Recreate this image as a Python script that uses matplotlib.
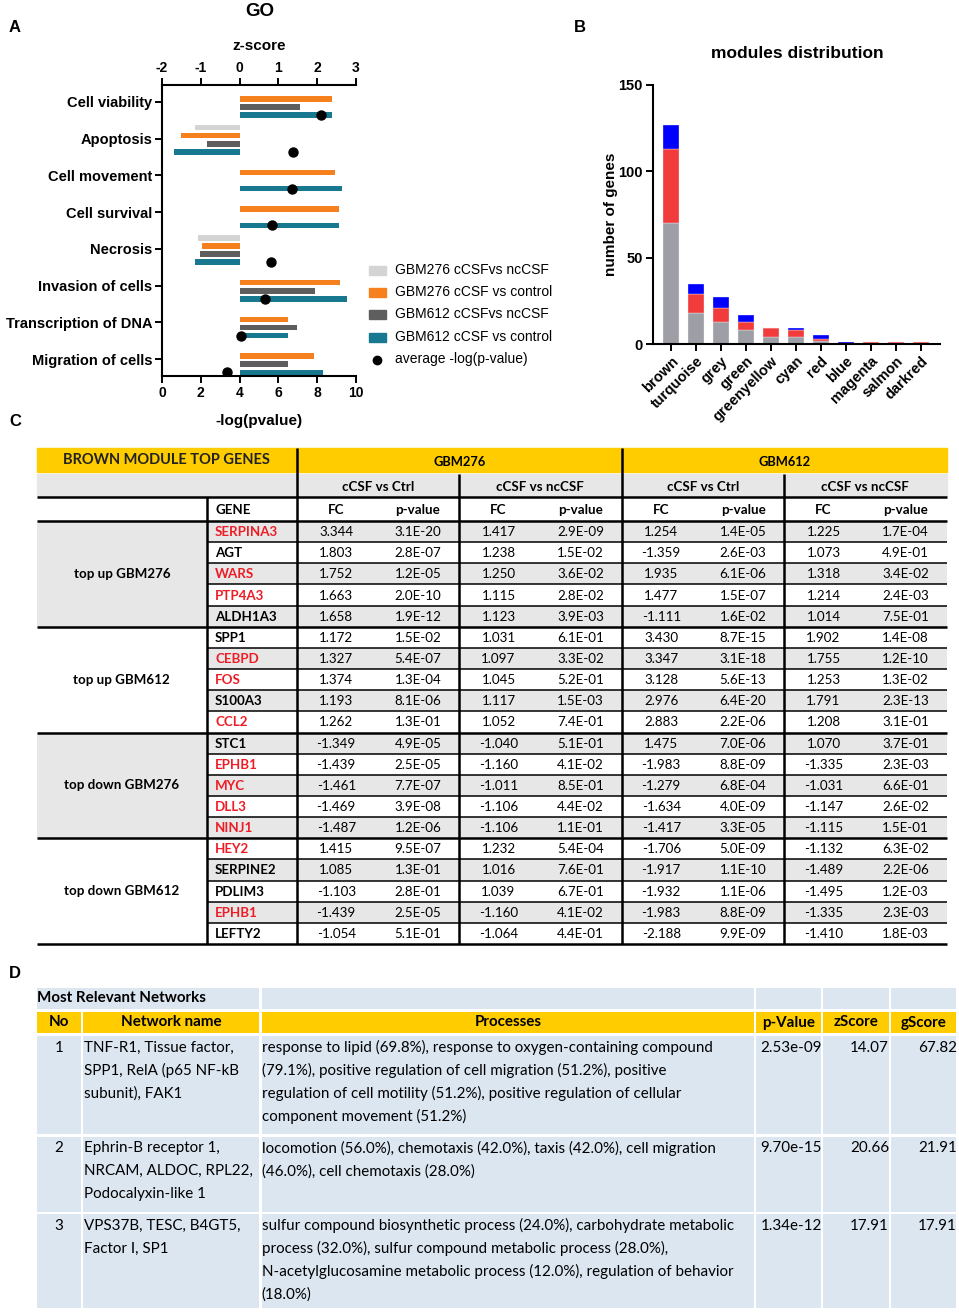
import numpy as np
import matplotlib
matplotlib.use("Agg")
import matplotlib.pyplot as plt
from matplotlib.patches import Rectangle

plt.rcParams["axes.unicode_minus"] = False

W, H = 959, 1312
SANS = "Liberation Sans"
TAB = "Lato"

# ---------------- panel A: GO terms ----------------
go_terms = ["Cell viability", "Apoptosis", "Cell movement", "Cell survival",
            "Necrosis", "Invasion of cells", "Transcription of DNA", "Migration of cells"]
z_276_nc = [np.nan, -1.14, np.nan, np.nan, -1.07, np.nan, np.nan, np.nan]
z_276_ctrl = [2.38, -1.50, 2.46, 2.56, -0.97, 2.58, 1.25, 1.92]
z_612_nc = [1.55, -0.85, np.nan, np.nan, -1.02, 1.95, 1.47, 1.25]
z_612_ctrl = [2.38, -1.69, 2.65, 2.56, -1.16, 2.77, 1.25, 2.15]
avg_logp = [8.18, 6.73, 6.69, 5.68, 5.64, 5.32, 4.06, 3.35]
go_series = ["GBM276 cCSFvs ncCSF", "GBM276 cCSF vs control",
             "GBM612 cCSFvs ncCSF", "GBM612 cCSF vs control"]
go_colors = ["#d4d4d4", "#f7801e", "#5e5e5e", "#18788f"]

# ---------------- panel B: modules ----------------
modules = ["brown", "turquoise", "grey", "green", "greenyellow", "cyan",
           "red", "blue", "magenta", "salmon", "darkred"]
n_neutral = [70, 18, 13, 8, 4, 4, 2, 0, 0, 0, 0]
n_up = [43, 11, 8, 5, 5, 4, 1, 0, 1, 1, 1]
n_down = [14, 6, 6, 4, 0, 1, 2, 1, 0, 0, 0]

# ---------------- panel C: brown module top genes ----------------
groups = ["top up GBM276", "top up GBM612", "top down GBM276", "top down GBM612"]
genes = ["SERPINA3", "AGT", "WARS", "PTP4A3", "ALDH1A3", "SPP1", "CEBPD", "FOS", "S100A3", "CCL2",
         "STC1", "EPHB1", "MYC", "DLL3", "NINJ1", "HEY2", "SERPINE2", "PDLIM3", "EPHB1", "LEFTY2"]
gene_red = [1, 0, 1, 1, 0, 0, 1, 1, 0, 1, 0, 1, 1, 1, 1, 1, 0, 0, 1, 0]
fc_276_ctrl = ["3.344", "1.803", "1.752", "1.663", "1.658", "1.172", "1.327", "1.374", "1.193", "1.262",
               "-1.349", "-1.439", "-1.461", "-1.469", "-1.487", "1.415", "1.085", "-1.103", "-1.439", "-1.054"]
p_276_ctrl = ["3.1E-20", "2.8E-07", "1.2E-05", "2.0E-10", "1.9E-12", "1.5E-02", "5.4E-07", "1.3E-04", "8.1E-06", "1.3E-01",
              "4.9E-05", "2.5E-05", "7.7E-07", "3.9E-08", "1.2E-06", "9.5E-07", "1.3E-01", "2.8E-01", "2.5E-05", "5.1E-01"]
fc_276_nc = ["1.417", "1.238", "1.250", "1.115", "1.123", "1.031", "1.097", "1.045", "1.117", "1.052",
             "-1.040", "-1.160", "-1.011", "-1.106", "-1.106", "1.232", "1.016", "1.039", "-1.160", "-1.064"]
p_276_nc = ["2.9E-09", "1.5E-02", "3.6E-02", "2.8E-02", "3.9E-03", "6.1E-01", "3.3E-02", "5.2E-01", "1.5E-03", "7.4E-01",
            "5.1E-01", "4.1E-02", "8.5E-01", "4.4E-02", "1.1E-01", "5.4E-04", "7.6E-01", "6.7E-01", "4.1E-02", "4.4E-01"]
fc_612_ctrl = ["1.254", "-1.359", "1.935", "1.477", "-1.111", "3.430", "3.347", "3.128", "2.976", "2.883",
               "1.475", "-1.983", "-1.279", "-1.634", "-1.417", "-1.706", "-1.917", "-1.932", "-1.983", "-2.188"]
p_612_ctrl = ["1.4E-05", "2.6E-03", "6.1E-06", "1.5E-07", "1.6E-02", "8.7E-15", "3.1E-18", "5.6E-13", "6.4E-20", "2.2E-06",
              "7.0E-06", "8.8E-09", "6.8E-04", "4.0E-09", "3.3E-05", "5.0E-09", "1.1E-10", "1.1E-06", "8.8E-09", "9.9E-09"]
fc_612_nc = ["1.225", "1.073", "1.318", "1.214", "1.014", "1.902", "1.755", "1.253", "1.791", "1.208",
             "1.070", "-1.335", "-1.031", "-1.147", "-1.115", "-1.132", "-1.489", "-1.495", "-1.335", "-1.410"]
p_612_nc = ["1.7E-04", "4.9E-01", "3.4E-02", "2.4E-03", "7.5E-01", "1.4E-08", "1.2E-10", "1.3E-02", "2.3E-13", "3.1E-01",
            "3.7E-01", "2.3E-03", "6.6E-01", "2.6E-02", "1.5E-01", "6.3E-02", "2.2E-06", "1.2E-03", "2.3E-03", "1.8E-03"]

# ---------------- panel D: networks ----------------
net_headers = ["No", "Network name", "Processes", "p-Value", "zScore", "gScore"]
net_no = ["1", "2", "3"]
net_names = [["TNF-R1, Tissue factor,", "SPP1, RelA (p65 NF-kB", "subunit), FAK1"],
             ["Ephrin-B receptor 1,", "NRCAM, ALDOC, RPL22,", "Podocalyxin-like 1"],
             ["VPS37B, TESC, B4GT5,", "Factor I, SP1"]]
net_processes = [["response to lipid (69.8%), response to oxygen-containing compound",
                  "(79.1%), positive regulation of cell migration (51.2%), positive",
                  "regulation of cell motility (51.2%), positive regulation of cellular",
                  "component movement (51.2%)"],
                 ["locomotion (56.0%), chemotaxis (42.0%), taxis (42.0%), cell migration",
                  "(46.0%), cell chemotaxis (28.0%)"],
                 ["sulfur compound biosynthetic process (24.0%), carbohydrate metabolic",
                  "process (32.0%), sulfur compound metabolic process (28.0%),",
                  "N-acetylglucosamine metabolic process (12.0%), regulation of behavior",
                  "(18.0%)"]]
net_p = ["2.53e-09", "9.70e-15", "1.34e-12"]
net_z = ["14.07", "20.66", "17.91"]
net_g = ["67.82", "21.91", "17.91"]


def box(l, t, r, b):
    return [l / W, 1 - b / H, (r - l) / W, (b - t) / H]


fig = plt.figure(figsize=(W / 100, H / 100), dpi=100)
ov = fig.add_axes([0, 0, 1, 1])
ov.set_xlim(0, W)
ov.set_ylim(H, 0)
ov.axis("off")

for lab, x, y in [("A", 15, 28), ("B", 580, 28), ("C", 15, 421), ("D", 15, 973)]:
    ov.text(x, y, lab, fontsize=12, fontweight="bold", family=SANS, ha="center", va="center")

# ---- A ----
ax = fig.add_axes(box(162, 85, 356, 376))
axz = ax.twiny()
ypos = np.arange(len(go_terms))
offs = [-0.30, -0.08, 0.14, 0.36]
for k, vals in enumerate([z_276_nc, z_276_ctrl, z_612_nc, z_612_ctrl]):
    axz.barh(ypos + offs[k], vals, height=0.15, left=0, color=go_colors[k])
ax.scatter(avg_logp, ypos + offs[3], s=42, color="black", zorder=5)
ax.set_zorder(axz.get_zorder() + 1)
ax.patch.set_visible(False)
ax.set_xlim(0, 10)
axz.set_xlim(-2, 3)
ax.set_ylim(len(go_terms) - 0.54, -0.46)
ax.set_yticks(ypos)
ax.set_yticklabels(go_terms, fontsize=10.5, fontweight="bold", family=SANS)
ax.set_xticks(range(0, 11, 2))
axz.set_xticks(range(-2, 4))
for a in (ax, axz):
    for lbl in a.get_xticklabels():
        lbl.set_fontweight("bold")
        lbl.set_family(SANS)
        lbl.set_fontsize(10)
    a.tick_params(width=1.4, length=5, pad=2)
for s in ["top", "right"]:
    ax.spines[s].set_visible(False)
for s in ["bottom", "right", "left"]:
    axz.spines[s].set_visible(False)
for a, s in [(ax, "left"), (ax, "bottom"), (axz, "top")]:
    a.spines[s].set_linewidth(1.5)
ax.set_xlabel("-log(pvalue)", fontsize=11, fontweight="bold", family=SANS)
ax.xaxis.set_label_coords(0.5, -0.155)
ax.xaxis.label.set_va("center")
axz.set_xlabel("z-score", fontsize=11, fontweight="bold", family=SANS)
axz.xaxis.set_label_coords(0.5, 1.134)
axz.xaxis.label.set_va("center")
ov.text(260, 11, "GO", fontsize=13.5, fontweight="bold", family=SANS, ha="center", va="center")

leg_y = [270.5, 292.5, 314.5, 337, 359.5]
for k in range(4):
    ov.add_patch(Rectangle((368.5, leg_y[k] - 4.5), 17.5, 9, color=go_colors[k]))
    ov.text(395, leg_y[k], go_series[k], fontsize=10, family=SANS, va="center")
ov.plot([377], [leg_y[4]], "o", color="black", ms=6)
ov.text(395, leg_y[4], "average -log(p-value)", fontsize=10, family=SANS, va="center")

# ---- B ----
bx = fig.add_axes(box(652.7, 85, 940, 344))
xb = np.arange(len(modules))
neutral = np.array(n_neutral)
up = np.array(n_up)
down = np.array(n_down)
bar_kw = dict(width=0.67, edgecolor="#f4f4f4", linewidth=0.25)
bx.bar(xb, neutral, color="#9e9ea6", label="-1.2<fc<1.2", **bar_kw)
bx.bar(xb, up, bottom=neutral, color="#f23c3c", label="upregulated", **bar_kw)
bx.bar(xb, down, bottom=neutral + up, color="#0000ff", label="downregulated", **bar_kw)
bx.set_xlim(-0.73, 10.76)
bx.set_ylim(0, 150)
bx.set_yticks([0, 50, 100, 150])
bx.set_xticks(xb)
bx.set_xticklabels(modules, rotation=45, ha="right", rotation_mode="anchor")
for lbl in bx.get_xticklabels() + bx.get_yticklabels():
    lbl.set_fontweight("bold")
    lbl.set_family(SANS)
    lbl.set_fontsize(10.5)
bx.tick_params(width=1.4, length=5, pad=2)
for s in ["top", "right"]:
    bx.spines[s].set_visible(False)
for s in ["left", "bottom"]:
    bx.spines[s].set_linewidth(1.5)
bx.set_ylabel("number of genes", fontsize=11, fontweight="bold", family=SANS)
bx.yaxis.set_label_coords(-0.146, 0.5)
bx.yaxis.label.set_va("center")
ov.text(797, 54, "modules distribution", fontsize=12.5, fontweight="bold", family=SANS,
        ha="center", va="center")
for lab, col, y in [("downregulated", "#0000ff", 142), ("upregulated", "#f23c3c", 168),
                    ("-1.2<fc<1.2", "#9e9ea6", 193)]:
    ov.add_patch(Rectangle((795, y - 5), 21, 10, color=col))
    ov.text(827, y, lab, fontsize=11, family=SANS, va="center")

# ---- C ----
YEL = "#ffcc00"
GRY = "#e7e7e7"
FS = 9.6
L, R = 37, 946.7
xg, xp = 206.7, [296.7, 459, 621.7, 784, 946.7]
ov.add_patch(Rectangle((L, 448), R - L, 24, color=YEL))
ov.add_patch(Rectangle((L, 474), R - L, 21.5, color=GRY))
ov.text((L + xp[0]) / 2, 460, "BROWN MODULE TOP GENES", family=TAB, fontweight="bold",
        fontsize=10.5, ha="center", va="center", color="#222222")
ov.text((xp[0] + xp[2]) / 2, 462, "GBM276", family=TAB, fontweight="bold", fontsize=9.3,
        ha="center", va="center")
ov.text((xp[2] + xp[4]) / 2, 462, "GBM612", family=TAB, fontweight="bold", fontsize=9.3,
        ha="center", va="center")
for j in range(4):
    a, b = xp[j], xp[j + 1]
    ov.text((a + b) / 2, 487, ["cCSF vs Ctrl", "cCSF vs ncCSF"][j % 2], family=TAB,
            fontweight="bold", fontsize=FS, ha="center", va="center")
    ov.text(a + 39.5, 509.5, "FC", family=TAB, fontweight="bold", fontsize=FS, ha="center", va="center")
    ov.text(b - 41, 509.5, "p-value", family=TAB, fontweight="bold", fontsize=FS, ha="center", va="center")
ov.text(215, 509.5, "GENE", family=TAB, fontweight="bold", fontsize=FS, va="center")

top0, rh = 521, 21.15
cols = [(fc_276_ctrl, p_276_ctrl), (fc_276_nc, p_276_nc), (fc_612_ctrl, p_612_ctrl), (fc_612_nc, p_612_nc)]
for i, g in enumerate(genes):
    y0 = top0 + i * rh
    yc = y0 + rh / 2 + 0.5
    if i % 2 == 0:
        ov.add_patch(Rectangle((xg, y0), R - xg, rh, color=GRY, lw=0))
    ov.text(215, yc, g, family=TAB, fontweight="bold", fontsize=FS, va="center",
            color="#ee1c25" if gene_red[i] else "black")
    for j, (fcv, pv) in enumerate(cols):
        ov.text(xp[j] + 39.5, yc, fcv[i], family=TAB, fontsize=FS, ha="center", va="center")
        ov.text(xp[j + 1] - 41, yc, pv[i], family=TAB, fontsize=FS, ha="center", va="center")
    if i % 5 != 0:
        ov.hlines(y0, xg, R, color="black", lw=1.1)
for gi, g in enumerate(groups):
    y0 = top0 + gi * 5 * rh
    if gi % 2 == 0:
        ov.add_patch(Rectangle((L, y0), xg - L, 5 * rh, color=GRY, lw=0))
    ov.text((L + xg) / 2, y0 + 2.5 * rh, g, family=TAB, fontweight="bold", fontsize=FS,
            ha="center", va="center")
    ov.hlines(y0, L, R, color="black", lw=1.8)
bot = top0 + len(genes) * rh
ov.hlines([497, bot], L, R, color="black", lw=1.8)
ov.vlines([xp[0], xp[2]], 448, bot, color="black", lw=1.8)
ov.vlines([xp[1], xp[3]], 474, bot, color="black", lw=1.8)
ov.vlines(xg, 497, bot, color="black", lw=1.8)

# ---- D ----
BLU = "#dce6f1"
FD = 10.9
dcols = [(36.7, 80.7), (83, 259.3), (261.7, 754), (756, 821.3), (823.3, 889), (891, 956)]
ov.add_patch(Rectangle((36.7, 987.7), 259.3 - 36.7, 21.6, color=BLU, lw=0))
for a, b in dcols[2:]:
    ov.add_patch(Rectangle((a, 987.7), b - a, 21.6, color=BLU, lw=0))
ov.text(36.7, 998.5, "Most Relevant Networks", family=TAB, fontweight="bold", fontsize=FD, va="center")
for (a, b), h in zip(dcols, net_headers):
    ov.add_patch(Rectangle((a, 1011.7), b - a, 21.6, color=YEL, lw=0))
    ov.text((a + b) / 2, 1022.5, h, family=TAB, fontweight="bold", fontsize=FD, ha="center", va="center")
rows_d = [(1036, 1134.3), (1136.7, 1211.7), (1214, 1308.3)]
lh = 23
for r, (t, b_) in enumerate(rows_d):
    for a, b in dcols:
        ov.add_patch(Rectangle((a, t), b - a, b_ - t, color=BLU, lw=0))
    y1 = t + 11.5
    ov.text(59, y1, net_no[r], family=TAB, fontsize=FD, ha="center", va="center")
    for k, line in enumerate(net_names[r]):
        ov.text(83.5, y1 + k * lh, line, family=TAB, fontsize=FD, va="center")
    for k, line in enumerate(net_processes[r]):
        ov.text(261.5, y1 + k * lh, line, family=TAB, fontsize=FD, va="center")
    ov.text(760.5, y1, net_p[r], family=TAB, fontsize=FD, va="center")
    ov.text(889, y1, net_z[r], family=TAB, fontsize=FD, ha="right", va="center")
    ov.text(957, y1, net_g[r], family=TAB, fontsize=FD, ha="right", va="center")

fig.savefig("out.png", dpi=100)
